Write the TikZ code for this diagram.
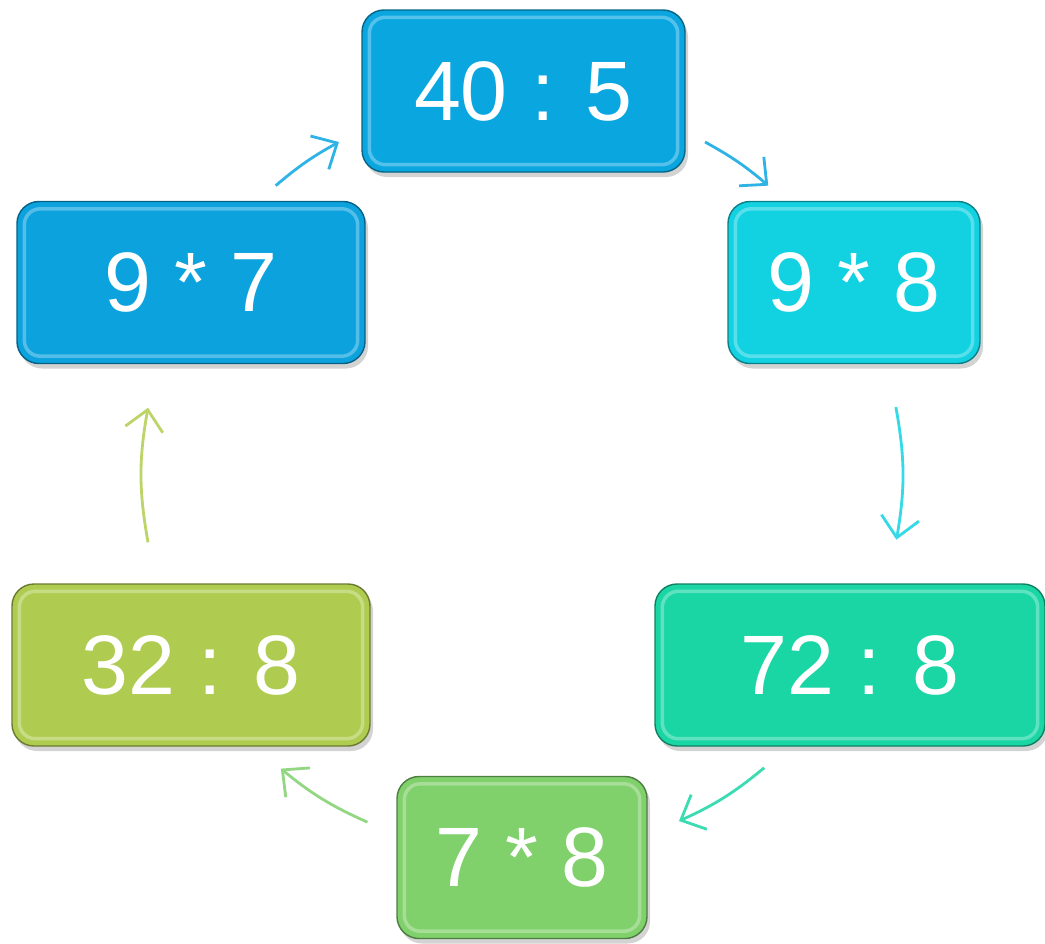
\documentclass[tikz,border=0pt]{standalone}
\usepackage{fontspec}
\setmainfont{Liberation Sans}
\usetikzlibrary{arrows.meta,shadows}

\definecolor{blueA}{RGB}{10,166,224}
\definecolor{cyanB}{RGB}{18,210,226}
\definecolor{tealC}{RGB}{26,214,164}
\definecolor{greenD}{RGB}{128,208,108}
\definecolor{limeE}{RGB}{176,204,80}
\definecolor{blueF}{RGB}{12,162,222}

\begin{document}
\begin{tikzpicture}
  [
    >={Straight Barb[length=2mm,width=3.8mm]},
    block/.style = {draw=#1!60!black, fill=#1, rounded corners=0.22cm, text=white,
                    font=\fontsize{24}{28}\selectfont, inner sep=0pt,
                    drop shadow={opacity=0.35, shadow xshift=0.03cm, shadow yshift=-0.05cm}},
    link/.style  = {->, line width=0.8pt, draw=#1},
  ]

%Fix the frame
\useasboundingbox (0,0) rectangle (10.45,-9.44);

%Centre and radius of the cycle
\def \cx{5.22}
\def \cy{-4.75}
\def \r{3.8}
\coordinate (ctr) at (\cx,\cy);

%Blocks of the cycle
\foreach [count=\i] \t/\c/\x/\y/\w in {40 : 5/blueA/5.235/-0.91/3.23,
                                       9 * 8/cyanB/8.54/-2.825/2.52,
                                       72 : 8/tealC/8.50/-6.65/3.90,
                                       7 * 8/greenD/5.22/-8.575/2.50,
                                       32 : 8/limeE/1.91/-6.65/3.58,
                                       9 * 7/blueF/1.91/-2.825/3.48}
{
\node[block=\c, minimum width=\w cm, minimum height=1.62cm] (b\i) at (\x,\y) {\t};
\draw[\c!70!white, line width=1pt, rounded corners=0.16cm]
  ([shift={(0.08,-0.08)}]b\i.north west) rectangle ([shift={(-0.08,0.08)}]b\i.south east);
}

%Arrows along the circle
\foreach [count=\i] \a/\b/\c in {130.4/118.8/blueA, 61.2/49.6/blueA, 10.3/-9.8/cyanB,
                                 -50.4/-65.6/tealC, -114/-129.4/greenD, 190.2/169.8/limeE}
{
\coordinate (s\i) at ([shift={(\a:\r)}]ctr);
\coordinate (e\i) at ([shift={(\b:\r)}]ctr);
\pgfmathsetmacro{\bnd}{(\a-\b)/2}
\draw[link=\c!85!white] (s\i) to[bend left=\bnd] (e\i);
}
\end{tikzpicture}
\end{document}
